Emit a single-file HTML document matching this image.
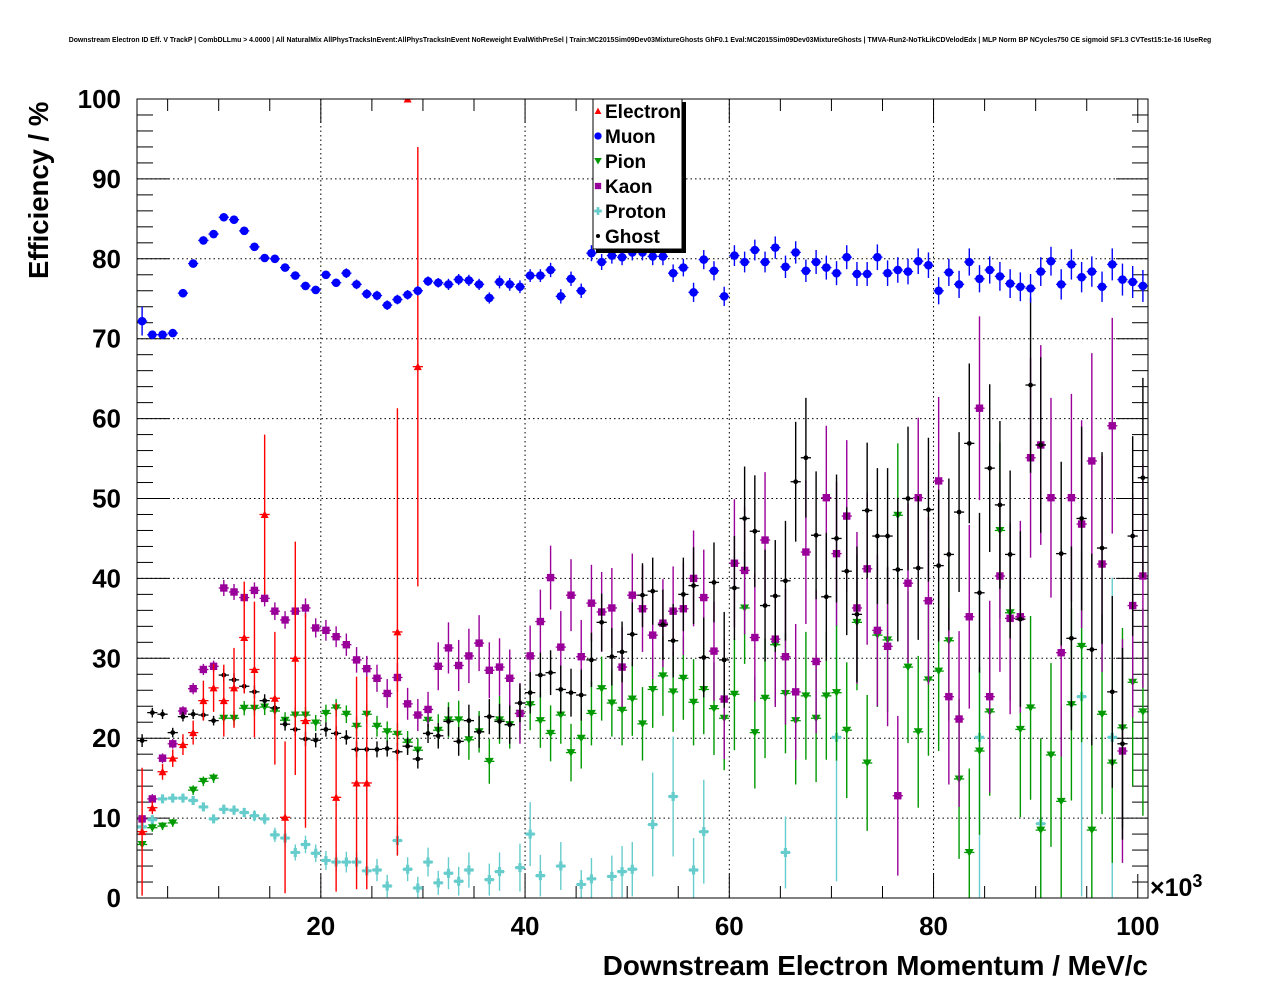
<!DOCTYPE html>
<html><head><meta charset="utf-8"><style>
html,body{margin:0;padding:0;background:#fff;}
svg{display:block;font-family:"Liberation Sans",Arial,sans-serif;}
</style></head><body>
<svg id="chart" width="1276" height="996" viewBox="0 0 1276 996" xmlns="http://www.w3.org/2000/svg">
<rect x="0" y="0" width="1276" height="996" fill="#fff"/>
<text x="640" y="42" text-anchor="middle" font-size="6.9" font-weight="bold">Downstream Electron ID Eff. V TrackP | CombDLLmu &gt; 4.0000 | All NaturalMix AllPhysTracksInEvent:AllPhysTracksInEvent NoReweight EvalWithPreSel | Train:MC2015Sim09Dev03MixtureGhosts GhF0.1 Eval:MC2015Sim09Dev03MixtureGhosts | TMVA-Run2-NoTkLikCDVelodEdx | MLP Norm BP NCycles750 CE sigmoid SF1.3 CVTest15:1e-16 !UseReg</text>
<g id="grid"></g>
<g id="axes"></g>
<defs><clipPath id="clip"><rect x="137" y="99" width="1011" height="799"/></clipPath></defs>
<g id="marks" clip-path="url(#clip)"></g>
<rect x="137" y="99" width="1011" height="799" fill="none" stroke="#000" stroke-width="1"/>
<text transform="translate(48,279) rotate(-90)" font-size="27.5" font-weight="bold">Efficiency / %</text>
<text x="1148" y="975" text-anchor="end" font-size="27.8" font-weight="bold">Downstream Electron Momentum / MeV/c</text>
<text x="1150" y="896" font-size="25" font-weight="bold">×10<tspan font-size="18" dy="-9">3</tspan></text>
<g id="legend"></g>
</svg>
<script>
const muon=[72.2,70.5,70.5,70.7,75.7,79.4,82.3,83.1,85.2,84.9,83.5,81.5,80.1,80,78.9,77.9,76.6,76.1,78,77,78.2,76.8,75.6,75.4,74.2,74.9,75.5,76,77.2,77,76.8,77.4,77.3,76.8,75.1,77.1,76.8,76.5,77.9,77.9,78.6,75.3,77.5,76,80.7,79.6,80.4,80.2,80.8,80.8,80.3,80.3,78.2,78.9,75.8,79.9,78.5,75.3,80.4,79.6,81.1,79.6,81.4,79,80.8,78.5,79.6,78.9,78.2,80.2,78.1,78.1,80.2,78.2,78.6,78.4,79.7,79.2,76,78.3,76.8,79.6,77.5,78.6,77.8,76.9,76.5,76.3,78.4,79.7,76.8,79.3,77.7,78.4,76.5,79.3,77.4,77.1,76.6];
const muonErr=[1.8,0.5,0.5,0.5,0.5,0.5,0.5,0.5,0.5,0.5,0.5,0.5,0.5,0.5,0.5,0.5,0.5,0.5,0.5,0.5,0.6,0.6,0.6,0.6,0.6,0.6,0.6,0.6,0.6,0.6,0.7,0.7,0.7,0.7,0.7,0.8,0.8,0.8,0.8,0.8,0.9,0.9,0.9,0.9,1,1,1,1,1,1,1.1,1.1,1.1,1.1,1.2,1.2,1.2,1.2,1.3,1.3,1.3,1.3,1.4,1.4,1.4,1.4,1.5,1.5,1.5,1.5,1.5,1.5,1.6,1.6,1.6,1.6,1.6,1.6,1.7,1.7,1.7,1.7,1.7,1.7,1.8,1.8,1.8,1.8,1.8,1.8,1.9,1.9,1.9,1.9,1.9,2,2,2,2];
const electron=[8.3,11.3,15.8,17.5,19.2,20.7,24.7,26.3,24.7,26.3,32.6,28.6,48,25,10.1,30,22.2,null,null,12.6,null,14.4,14.4,null,null,33.3,100,66.5];
const electronErr=[8,0.8,1,1.1,1.3,1.5,2.5,3,4.5,5,7,8.5,10,8.3,9.5,14.6,13.4,0,0,11.8,0,13.3,13.3,0,0,28,0,27.5];
const kaon=[9.9,12.4,17.5,19.3,23.4,26.2,28.6,29.0,38.8,38.3,37.6,38.5,37.5,35.9,34.8,35.9,36.3,33.8,33.5,32.7,31.7,29.8,28.7,27.5,25.6,27.6,24.3,22.9,23.6,
29.0,31.3,29.1,30.3,31.9,28.5,28.9,27.5,23.1,30.3,34.6,40.1,31.4,37.9,30.2,36.9,35.8,36.3,28.9,37.9,36.2,32.9,34.4,35.9,36.2,40.0,37.6,30.9,
24.9,41.9,41.0,32.6,44.8,32.4,30.2,25.8,43.3,29.6,50.1,43.1,47.8,36.3,41.2,33.5,31.5,12.8,39.4,50.1,37.2,52.2,
25.2,22.4,35.2,61.3,25.2,40.3,35.0,35.2,55.1,56.7,50.1,30.7,50.1,46.8,54.7,41.8,59.1,18.4,36.6,40.3];
const kaonErr=[0.6,0.6,0.6,0.6,0.6,0.7,0.7,0.7,1,1,1,1,1,1.1,1.1,1.1,1.2,1.2,1.3,1.3,1.4,1.6,1.6,1.7,1.8,1.8,2,2,2.2,
3,3.2,3.2,3.4,3.5,3.5,3.6,3.6,3.8,3.8,4,4,4.5,4.5,4.6,4.8,5,5,5,5.2,5.4,5.5,5.5,5.6,5.8,6,6,6.2,
7.5,8,8,8,8.5,8.5,8.5,8.5,9,9,9,9,9.5,9.5,9.5,9.5,10,10,10,10,10.5,10.5,
11,11,11.5,11.5,12,12,12,12,12.5,12.5,12.5,13,13,13,13.5,13.5,13.5,14,14,14];
const ghost=[19.7,23.2,23.0,20.7,22.7,23.0,22.9,22.2,27.9,27.3,26.5,25.8,24.7,23.8,21.75,21.1,19.9,19.75,21.1,20.6,20.1,18.6,18.6,18.6,18.7,18.3,19,17.4,20.6,
20.3,22.1,19.6,22.2,20.8,22.7,22.1,21.7,24.4,25.7,27.9,28.2,26.1,25.7,25.4,29.8,34.5,30.2,30.8,33.0,37.9,38.4,34.2,32.2,38.0,39.1,30.1,39.5,
29.8,38.8,47.5,45.9,36.6,37.8,39.7,52.1,55.1,45.4,37.7,45.0,40.9,35.5,48.5,45.3,45.3,41.1,50.0,41.3,48.6,41.6,
43.0,48.3,56.9,38.2,53.8,49.2,43.0,34.9,64.2,56.7,null,43.1,32.5,47.5,31.1,43.8,25.8,19.3,45.3,52.6];
const ghostErr=[0.8,0.6,0.6,0.6,0.6,0.6,0.6,0.6,0.8,0.8,0.8,0.8,0.8,0.8,0.8,0.8,0.9,0.9,0.9,0.9,0.9,1,1,1,1,1.1,1.1,1.2,1.2,
1.6,1.8,1.8,2,2,2.2,2.2,2.4,2.4,2.6,2.8,2.8,3,3,3.2,3.4,3.6,3.6,3.8,4,4,4.2,4.4,4.6,4.6,4.8,5,5,
6,6.5,6.5,7,7,7,7.5,7.5,7.5,8,8,8,8,8.5,8.5,8.5,8.5,9,9,9,9,9.5,
9.5,10,10,10,10.5,10.5,10.5,11,11,11,11,11.5,11.5,11.5,12,12,12,12,12.5,12.5];
const pion=[6.7,8.8,9.0,9.4,null,13.5,14.6,15.0,22.5,22.5,23.75,23.75,23.9,23.4,22.25,22.9,22.9,21.9,23.1,23.8,23,21.5,23,21.5,20.8,20.5,19.5,18.5,22.25,
21.0,22.3,22.3,19.8,20.8,17.1,22.3,21.7,23.1,24.2,22.2,20.6,22.9,18.2,20.0,23.1,26.2,24.4,23.5,24.9,21.8,26.1,27.8,25.8,27.5,24.5,26.1,23.7,
22.5,25.5,36.3,20.7,25.0,31.7,25.6,22.2,25.3,22.5,25.3,25.7,21.0,34.5,16.9,32.9,32.3,47.9,28.9,20.8,27.3,28.4,
32.2,14.9,5.7,18.4,23.3,46.0,35.7,21.1,23.8,8.5,17.9,12.1,24.2,31.5,8.5,23.0,16.9,21.3,27.0,23.3];
const pionErr=[0.6,0.5,0.5,0.5,0.5,0.6,0.6,0.6,0.9,0.9,0.9,0.9,1,1,1,1,1,1,1.1,1.1,1.1,1.2,1.2,1.3,1.3,1.4,1.4,1.5,1.5,
2,2.2,2.4,2.5,2.6,2.8,3,3,3.2,3.2,3.4,3.5,3.6,3.6,3.8,4,4,4.2,4.4,4.6,4.6,4.8,5,5,5.2,5.4,5.6,5.8,
6.5,7,7,7,7.5,7.5,7.5,8,8,8,8,8.5,8.5,8.5,8.5,9,9,9,9.5,9.5,9.5,10,
10,10,10.5,10.5,10.5,11,11,11,11.5,11.5,11.5,12,12,12,12,12.5,12.5,12.5,13,13];
const proton=[8.9,9.8,12.4,12.5,12.5,12.2,11.4,9.9,11.1,11.0,10.7,10.3,9.9,7.9,7.5,5.7,6.7,5.6,4.7,4.5,4.5,4.5,3.4,3.5,1.5,7.2,3.6,1.25,4.5,
1.9,3.1,2.1,3.5,null,2.3,3.3,null,3.8,8.0,2.8,null,4.0,null,1.7,2.4,null,2.7,3.3,3.6,null,9.2,null,12.7,null,3.5,8.3,null,
null,null,null,null,null,null,5.7,null,null,null,null,20.1,null,null,null,null,null,null,null,null,null,null,
null,null,null,20.1,null,null,null,null,null,9.3,null,null,null,25.2,null,null,20.1,null,null,null];
const protonErr=[0.6,0.6,0.5,0.5,0.5,0.5,0.5,0.5,0.6,0.6,0.6,0.7,0.7,0.9,1,1,1.1,1.1,1.2,1.2,1.3,1.3,1.3,1.4,1.4,1.9,1.5,1.4,1.8,
1.5,2,1.8,2.2,0,2,2.4,0,3,4,2.6,0,3,0,1.8,2.6,0,2.6,3.2,3.4,0,6.5,0,7.5,0,4,6.5,0,
0,0,0,0,0,0,4.5,0,0,0,0,18,0,0,0,0,0,0,0,0,0,0,
0,0,0,20,0,0,0,0,0,10,0,0,0,25,0,0,20,0,0,0];
const xTicks=[20,40,60,80,100];
const yTicks=[0,10,20,30,40,50,60,70,80,90,100];

const NS="http://www.w3.org/2000/svg";
const X0=2,X1=101,PX0=137,PX1=1148;
const xs=v=>PX0+(v-X0)*(PX1-PX0)/(X1-X0);
const ys=v=>898-v*7.99;
function mk(tag,attrs,parent){const e=document.createElementNS(NS,tag);for(const k in attrs)e.setAttribute(k,attrs[k]);parent.appendChild(e);return e;}
const grid=document.getElementById('grid'),axes=document.getElementById('axes'),marks=document.getElementById('marks'),legend=document.getElementById('legend');

for(const t of yTicks){if(t===0||t===100)continue;const l=mk('line',{x1:PX0,x2:PX1,y1:ys(t),y2:ys(t),stroke:'#000','stroke-width':1,'stroke-dasharray':'1.5,3'},grid);

}
for(const t of xTicks){if(t>=100)continue;const l=mk('line',{x1:xs(t),x2:xs(t),y1:99,y2:898,stroke:'#000','stroke-width':1,'stroke-dasharray':'1.5,3'},grid);

}
for(let v=0;v<=100;v+=2){const major=v%10===0;const len=major?32:16;
const a=mk('line',{x1:PX0,x2:PX0+len,y1:ys(v),y2:ys(v),stroke:'#000','stroke-width':1},axes);


const b=mk('line',{x1:PX1-len,x2:PX1,y1:ys(v),y2:ys(v),stroke:'#000','stroke-width':1},axes);

}
for(const t of yTicks){const tx=mk('text',{x:121,y:ys(t)+9,'text-anchor':'end','font-size':26,'font-weight':'bold'},axes);tx.textContent=t;

}
for(let v=5;v<=100;v+=5){const major=v%20===0;const len=major?24:12;
const a=mk('line',{x1:xs(v),x2:xs(v),y1:898,y2:898-len,stroke:'#000','stroke-width':1},axes);


const b=mk('line',{x1:xs(v),x2:xs(v),y1:99,y2:99+len,stroke:'#000','stroke-width':1},axes);

}
for(const t of xTicks){const tx=mk('text',{x:xs(t),y:935,'text-anchor':'middle','font-size':26,'font-weight':'bold'},axes);tx.textContent=t;

}

function marker(kind,color,cx,cy,parent,s){
  s=s||1;let e;
  if(kind==='tri-up')e=mk('polygon',{points:`${cx-4*s},${cy+3.5*s} ${cx+4*s},${cy+3.5*s} ${cx},${cy-4*s}`,fill:color},parent);
  else if(kind==='tri-down')e=mk('polygon',{points:`${cx-4.5*s},${cy-3.5*s} ${cx+4.5*s},${cy-3.5*s} ${cx},${cy+4*s}`,fill:color},parent);
  else if(kind==='circle')e=mk('ellipse',{cx:cx,cy:cy,rx:4.3*s,ry:4.3*s,fill:color},parent);
  else if(kind==='square')e=mk('rect',{x:cx-3.7*s,y:cy-3.7*s,width:7.4*s,height:7.4*s,fill:color},parent);
  else if(kind==='cross')e=mk('path',{d:`M${cx-4.5*s},${cy-1.6*s}h${2.9*s}v${-2.9*s}h${3.2*s}v${2.9*s}h${2.9*s}v${3.2*s}h${-2.9*s}v${2.9*s}h${-3.2*s}v${-2.9*s}h${-2.9*s}z`,fill:color},parent);
  else e=mk('ellipse',{cx:cx,cy:cy,rx:2.4*s,ry:2.4*s,fill:color},parent);
  return e;
}
const series=[
 {name:'electron',vals:electron,errs:electronErr,color:'#ff0000',kind:'tri-up'},
 {name:'muon',vals:muon,errs:muonErr,color:'#0000ff',kind:'circle'},
 {name:'pion',vals:pion,errs:pionErr,color:'#009900',kind:'tri-down'},
 {name:'kaon',vals:kaon,errs:kaonErr,color:'#990099',kind:'square'},
 {name:'proton',vals:proton,errs:protonErr,color:'#66cccc',kind:'cross'},
 {name:'ghost',vals:ghost,errs:ghostErr,color:'#000000',kind:'dot'}
];
const drawOrder=['proton','pion','kaon','ghost','electron','muon'];
for(const nm of drawOrder){const s=series.find(q=>q.name===nm);
  const g=mk('g',{},marks);
  
  
  s.vals.forEach((v,i)=>{if(v===null||v===undefined)return;
    const c=X0+0.5+i,cx=xs(c),cy=ys(v),e=s.errs[i]||0;
    const h=mk('line',{x1:xs(c-0.5),x2:xs(c+0.5),y1:cy,y2:cy,stroke:s.color,'stroke-width':1.3},g);
    
    
    if(e>0){const vl=mk('line',{x1:cx,x2:cx,y1:ys(v-e),y2:ys(v+e),stroke:s.color,'stroke-width':1.4},g);
    
    }
    const m=marker(s.kind,s.color,cx,cy,g);
    
    
  });
}
const lb=mk('rect',{x:596,y:102,width:90,height:151,fill:'#000'},legend);


const lr=mk('rect',{x:593,y:99,width:89,height:150,fill:'#fff',stroke:'#000','stroke-width':1},legend);


const labels=['Electron','Muon','Pion','Kaon','Proton','Ghost'];
series.forEach((s,k)=>{const y=111+k*25;
  const g=mk('g',{},legend);
  
  
  marker(s.kind,s.color,598,y,g,0.85);
  const t=mk('text',{x:605,y:y+7,'font-size':19,'font-weight':'bold'},g);t.textContent=labels[k];
});
</script>
</body></html>
